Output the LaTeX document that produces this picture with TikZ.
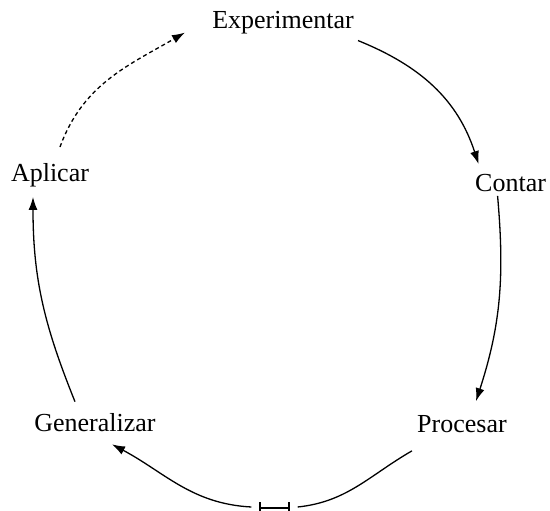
\documentclass[tikz,border=0pt]{standalone}
\usepackage{fontspec}
\setmainfont{Liberation Serif}
\usetikzlibrary{arrows.meta}
\begin{document}
\begin{tikzpicture}[x=1pt,y=1pt,
  lbl/.style={inner sep=0pt, font=\fontsize{26}{30}\selectfont},
  conn/.style={line width=1.3pt, -{Latex[length=13pt,width=9pt]}},
  plain/.style={line width=1.3pt},
  dashconn/.style={conn, dash pattern=on 4pt off 3pt}]
\useasboundingbox (0,0) rectangle (550,511);
\node[lbl] (E) at (283,488) {Experimentar};
\node[lbl, anchor=west] (C) at (475,328) {Contar};
\node[lbl] (P) at (462,87) {Procesar};
\node[lbl] (G) at (95,88) {Generalizar};
\node[lbl] (A) at (50,336) {Aplicar};
\node[inner sep=0pt, minimum width=46pt, minimum height=2pt] (M) at (274.5,4) {};
\draw[plain] (M.center) ++(-14.5,-1) -- ++(29,0);
\draw[plain] (M.center) ++(-14.5,-4) -- ++(0,9);
\draw[plain] (M.center) ++(14.5,-4) -- ++(0,9);
\draw[conn] ([xshift=75pt,yshift=-6pt]E.south) to[out=-22,in=108] ([xshift=-32pt,yshift=10pt]C.north);
\draw[conn] ([xshift=-13pt,yshift=-4pt]C.south) to[out=-85,in=72] ([xshift=14pt,yshift=14pt]P.north);
\draw[plain] ([xshift=-50pt,yshift=-18pt]P.south) to[out=210,in=6] (M.east);
\draw[conn] (M.west) to[out=177,in=-28] ([xshift=17pt,yshift=-12pt]G.south);
\draw[conn] ([xshift=-20pt,yshift=12pt]G.north) to[out=112,in=-90] ([xshift=-17pt,yshift=-10pt]A.south);
\draw[dashconn] ([xshift=10pt,yshift=16pt]A.north) to[out=70,in=-150] ([xshift=-98pt,yshift=2pt]E.south);
\end{tikzpicture}
\end{document}
